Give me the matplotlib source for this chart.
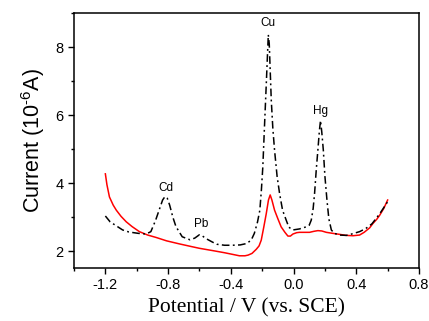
import matplotlib.pyplot as plt
from matplotlib.ticker import MultipleLocator

plt.rcParams["mathtext.fontset"] = "custom"
plt.rcParams["mathtext.rm"] = "Liberation Sans"
plt.rcParams["mathtext.it"] = "Liberation Sans:italic"
plt.rcParams["mathtext.default"] = "rm"

# dash-dot trace (all metals)
pot_mix = [-1.20, -1.17, -1.13, -1.09, -1.05, -0.99, -0.94, -0.91, -0.88, -0.85,
           -0.835, -0.82, -0.805, -0.79, -0.77, -0.75, -0.71, -0.66, -0.63, -0.60,
           -0.58, -0.56, -0.52, -0.49, -0.44, -0.39, -0.34, -0.30, -0.27, -0.25,
           -0.23, -0.215, -0.205, -0.196, -0.185, -0.174, -0.166, -0.161, -0.155,
           -0.148, -0.142, -0.132, -0.121, -0.105, -0.089, -0.07, -0.047, -0.03,
           -0.004, 0.038, 0.08, 0.10, 0.113, 0.125, 0.134, 0.145, 0.155, 0.165,
           0.172, 0.18, 0.19, 0.20, 0.213, 0.225, 0.241, 0.26, 0.294, 0.336, 0.37,
           0.421, 0.46, 0.50, 0.55, 0.60]
cur_mix = [3.03, 2.86, 2.74, 2.62, 2.56, 2.52, 2.50, 2.57, 2.90, 3.30,
           3.50, 3.60, 3.55, 3.35, 3.00, 2.72, 2.42, 2.33, 2.38, 2.48,
           2.44, 2.37, 2.27, 2.20, 2.17, 2.17, 2.18, 2.22, 2.32, 2.52,
           2.85, 3.20, 3.80, 4.47, 5.70, 6.90, 7.80, 8.36, 8.10,
           7.20, 6.43, 5.60, 4.96, 4.20, 3.69, 3.20, 2.91, 2.70,
           2.62, 2.65, 2.71, 2.76, 2.91, 3.25, 3.69, 4.40, 4.96, 5.55,
           5.84, 5.50, 4.96, 4.20, 3.50, 2.95, 2.62, 2.52, 2.47, 2.46, 2.50,
           2.57, 2.66, 2.80, 3.10, 3.45]

# solid red trace (blank)
pot_blank = [-1.20, -1.19, -1.174, -1.15, -1.13, -1.10, -1.067, -1.03, -0.983,
             -0.93, -0.877, -0.81, -0.728, -0.65, -0.60, -0.50, -0.44, -0.387,
             -0.345, -0.31, -0.29, -0.265, -0.238, -0.22, -0.206, -0.19, -0.174,
             -0.16, -0.149, -0.138, -0.121, -0.10, -0.079, -0.055, -0.036, -0.02,
             -0.004, 0.02, 0.038, 0.07, 0.102, 0.13, 0.155, 0.18, 0.209, 0.25,
             0.294, 0.336, 0.379, 0.421, 0.45, 0.485, 0.506, 0.53, 0.549, 0.575,
             0.60]
cur_blank = [4.27, 3.95, 3.59, 3.35, 3.20, 3.02, 2.86, 2.72, 2.57,
             2.47, 2.40, 2.30, 2.21, 2.13, 2.08, 2.00, 1.95, 1.90,
             1.86, 1.86, 1.88, 1.93, 2.05, 2.15, 2.32, 2.70, 3.10,
             3.50, 3.65, 3.50, 3.20, 2.95, 2.71, 2.55, 2.44, 2.44,
             2.50, 2.54, 2.55, 2.55, 2.55, 2.58, 2.60, 2.59, 2.55, 2.52,
             2.49, 2.46, 2.45, 2.47, 2.55, 2.68, 2.81, 2.93, 3.05, 3.25,
             3.50]

peak_names = ["Cd", "Pb", "Cu", "Hg"]
peak_pos = [-0.812, -0.59, -0.165, 0.172]
peak_lab_y = [3.86, 2.80, 8.70, 6.13]

fig = plt.figure(figsize=(4.29, 3.21), dpi=100)
ax = fig.add_axes([0.1725, 0.165, 0.8042, 0.7945])

ax.plot(pot_blank, cur_blank, color="red", lw=1.1)
ax.plot(pot_mix, cur_mix, color="black", lw=1.1, linestyle=(0, (5, 2.2, 1.2, 2.2)))

for name, xp, yp in zip(peak_names, peak_pos, peak_lab_y):
    ax.text(xp, yp, name, ha="center", va="center", fontsize=8.5,
            family="Liberation Sans")

ax.set_xlim(-1.4, 0.8)
ax.set_ylim(1.5, 9.0)
ax.xaxis.set_minor_locator(MultipleLocator(0.2))
ax.yaxis.set_major_locator(MultipleLocator(2))
ax.yaxis.set_minor_locator(MultipleLocator(1))
ax.set_xticks([-1.2, -0.8, -0.4, 0.0, 0.4, 0.8])
ax.set_xticklabels(["-1.2", "-0.8", "-0.4", "0.0", "0.4", "0.8"])
ax.tick_params(which="both", direction="out", top=False, right=False,
               labelsize=10.5, width=1)
ax.tick_params(which="major", length=4)
ax.tick_params(which="minor", length=2.5)
for lab in ax.get_xticklabels() + ax.get_yticklabels():
    lab.set_family("Liberation Sans")
for sp in ax.spines.values():
    sp.set_linewidth(1.1)

ax.set_xlabel("Potential / V (vs. SCE)", family="Liberation Serif", fontsize=15.5,
              labelpad=4)
ax.set_ylabel("Current (10$^{\\text{-6}}$A)", family="Liberation Sans", fontsize=15.5,
              labelpad=6)

fig.savefig("out.png", dpi=100)
